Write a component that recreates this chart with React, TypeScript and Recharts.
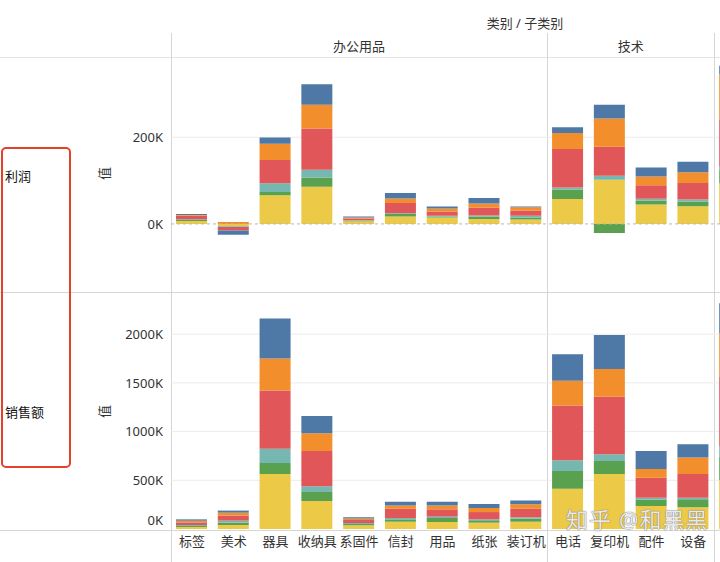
import { BarChart, Bar, XAxis, YAxis, CartesianGrid, ReferenceLine } from 'recharts';

// 子类别 (pinyin order, as Tableau sorts them); only the first 家具 column peeks in at the right edge
const subCategories = ['标签', '美术', '器具', '收纳具', '系固件', '信封', '用品', '纸张', '装订机', '电话', '复印机', '配件', '设备', '书架'];
const categoryNames = ['办公用品', '技术', '家具'];
const categorySizes = [9, 4, 1];

// stack order bottom -> top
const regions = ['华东', '中南', '东北', '华北', '西南', '西北'];

// 利润, in K
const profitHuadong = [7, -5, 66, 86, 6, 17, 14.6, 11.5, 10, 57.7, 102, 45, 40.8, 94];
const profitZhongnan = [2, -1, 7.7, 21, 1.5, 6, 2.5, 5, 4.6, 21.5, -21, 8.5, 10.8, 30];
const profitDongbei = [2, -1, 20, 18, 1, 1.5, 2, 3, 4, 4.6, 9, 4.6, 4.6, 8];
const profitHuabei = [8, -8, 54, 95, 4, 24, 9, 18.5, 12, 89, 67, 31, 38, 108];
const profitXinan = [1.5, 4.6, 37, 55, 2.5, 10, 7.7, 9, 7.7, 37, 65, 20, 25, 105];
const profitXibei = [2.5, -10, 14.6, 47, 2, 13, 4.6, 13, 2, 13, 32, 21, 24, 20];

// 销售额, in K
const salesHuadong = [21, 41, 565, 288, 38, 75, 72, 65, 75, 414, 565, 236, 223, 503];
const salesZhongnan = [10, 24, 113, 92, 14, 24, 41, 17, 31, 182, 134, 68, 82, 240];
const salesDongbei = [10, 21, 147, 58, 10, 14, 14, 17, 14, 110, 68, 17, 17, 103];
const salesHuabei = [27, 51, 596, 363, 31, 96, 75, 75, 89, 562, 592, 205, 243, 719];
const salesXinan = [17, 31, 329, 181, 14, 31, 38, 41, 45, 253, 284, 89, 168, 445];
const salesXibei = [14, 21, 411, 178, 14, 41, 41, 41, 38, 274, 349, 185, 137, 308];

const profitTicks = [0, 200];
const salesTicks = [0, 500, 1000, 1500, 2000];

const profitSeries = [profitHuadong, profitZhongnan, profitDongbei, profitHuabei, profitXinan, profitXibei];
const salesSeries = [salesHuadong, salesZhongnan, salesDongbei, salesHuabei, salesXinan, salesXibei];

const colors = ['#EDC948', '#59A14F', '#76B7B2', '#E15759', '#F28E2B', '#4E79A7'];

const buildRows = (series: number[][]) =>
  subCategories.map((sub, i) => {
    const row: any = { sub };
    regions.forEach((r, j) => { row[r] = series[j][i]; });
    return row;
  });

const profitData = buildRows(profitSeries);
const salesData = buildRows(salesSeries);

const FONT = '"Noto Sans", "Noto Sans CJK SC", sans-serif';
const FRAME_W = 720;
const CHART_LEFT = 100;
const AXIS_W = 71;
const PLOT_LEFT = CHART_LEFT + AXIS_W;
const CHART_W = 656;
const BAND = (CHART_W - AXIS_W) / subCategories.length;
const TEXT = '#333';
const RULE = '#d6d6d6';

const SalesTick = (props: any) => {
  const { x, y, payload } = props;
  // Tableau pushes the bottom label up so it stays inside the pane
  const shift = payload.value === 0 ? -9 : 0;
  return (
    <text x={x} y={y + shift} dy="0.355em" textAnchor="end" fontSize={13} fill={TEXT} fontFamily={FONT}>
      {payload.value}K
    </text>
  );
};

// the view is cropped on the right, so labels past the edge aren't drawn
const SubTick = (props: any) => {
  const { x, y, payload } = props;
  if (CHART_LEFT + x + 14 > FRAME_W) return null;
  return (
    <text x={x} y={y} dy="0.71em" textAnchor="middle" fontSize={13} fill={TEXT} fontFamily={FONT}>
      {payload.value}
    </text>
  );
};

const bars = () =>
  regions.map((r, j) => (
    <Bar key={r} dataKey={r} stackId="a" fill={colors[j]} isAnimationActive={false} />
  ));

export default function App() {
  let acc = 0;
  const dividers = categorySizes.map((n) => {
    const start = PLOT_LEFT + acc * BAND;
    acc += n;
    return { start, end: PLOT_LEFT + acc * BAND };
  });

  return (
    <div style={{ position: 'fixed', left: 0, top: 0, width: FRAME_W, height: 562, overflow: 'hidden', background: '#fff', fontFamily: FONT, color: TEXT }}>
      {/* header */}
      <div style={{ position: 'absolute', left: 425, width: 200, top: 13, textAlign: 'center', fontSize: 13 }}>类别 / 子类别</div>
      {categoryNames.slice(0, 2).map((c, i) => (
        <div key={c} style={{ position: 'absolute', left: dividers[i].start, width: dividers[i].end - dividers[i].start, top: 36, textAlign: 'center', fontSize: 13 }}>{c}</div>
      ))}

      {/* frame rules */}
      <div style={{ position: 'absolute', left: 0, top: 57, width: FRAME_W, height: 1, background: '#e4e4e4' }} />
      <div style={{ position: 'absolute', left: 0, top: 292, width: FRAME_W, height: 1, background: RULE }} />
      <div style={{ position: 'absolute', left: 0, top: 530, width: FRAME_W, height: 1, background: RULE }} />
      {[dividers[0].start, dividers[0].end, dividers[1].end].map((x) => (
        <div key={x} style={{ position: 'absolute', left: Math.round(x), top: 33, width: 1, height: 529, background: RULE }} />
      ))}

      {/* row labels */}
      <div style={{ position: 'absolute', left: 5, top: 166, fontSize: 13, color: '#111' }}>利润</div>
      <div style={{ position: 'absolute', left: 5, top: 402, fontSize: 13, color: '#111' }}>销售额</div>
      <div style={{ position: 'absolute', left: 1, top: 147, width: 66, height: 317, border: '2.5px solid #E4412B', borderRadius: 5 }} />

      {/* axis titles */}
      <div style={{ position: 'absolute', left: 97, top: 164, fontSize: 13, transform: 'rotate(-90deg)' }}>值</div>
      <div style={{ position: 'absolute', left: 97, top: 402, fontSize: 13, transform: 'rotate(-90deg)' }}>值</div>

      {/* 利润 */}
      <div style={{ position: 'absolute', left: CHART_LEFT, top: 57 }}>
        <BarChart width={CHART_W} height={235} data={profitData} stackOffset="sign" barSize={31} barCategoryGap={0} margin={{ top: 0, right: 0, bottom: 0, left: 0 }}>
          <CartesianGrid vertical={false} horizontalValues={profitTicks.filter((t) => t !== 0)} stroke="#ececec" />
          <XAxis dataKey="sub" hide />
          <YAxis width={AXIS_W} domain={[-157, 385]} ticks={profitTicks} allowDataOverflow axisLine={false} tickLine={false}
            tickFormatter={(v) => `${v}K`} tick={{ fontSize: 13, fill: TEXT, fontFamily: FONT }} />
          <ReferenceLine y={0} stroke="#b8b8b8" strokeDasharray="3 3" />
          {bars()}
        </BarChart>
      </div>

      {/* 销售额 */}
      <div style={{ position: 'absolute', left: CHART_LEFT, top: 293 }}>
        <BarChart width={CHART_W} height={269} data={salesData} barSize={31} barCategoryGap={0} margin={{ top: 0, right: 0, bottom: 0, left: 0 }}>
          <CartesianGrid vertical={false} horizontalValues={salesTicks.filter((t) => t !== 0)} stroke="#ececec" />
          <XAxis dataKey="sub" height={33} interval={0} axisLine={false} tickLine={false} tick={<SubTick />} />
          <YAxis width={AXIS_W} domain={[0, 2423]} ticks={salesTicks} allowDataOverflow axisLine={false} tickLine={false} tick={<SalesTick />} />
          {bars()}
        </BarChart>
      </div>

      {/* watermark */}
      <div style={{ position: 'absolute', left: 566, top: 508, fontSize: 22, lineHeight: '22px', color: 'rgba(255,255,255,0.85)', textShadow: '0 0 1px #777, 0 0 1px #777', letterSpacing: 1 }}>知乎 @和黑黑</div>
    </div>
  );
}
